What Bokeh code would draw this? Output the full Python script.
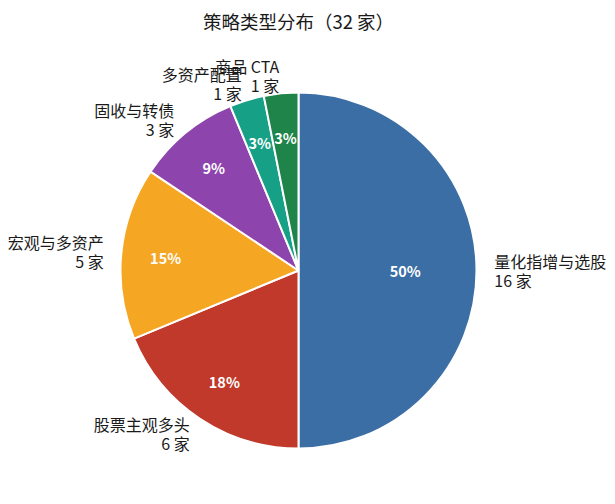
import math
from bokeh.plotting import figure
from bokeh.models import Range1d, ColumnDataSource
from bokeh.core.properties import value
from bokeh.embed import file_html
from bokeh.resources import INLINE

# ---- data ----
categories = ["量化指增与选股", "股票主观多头", "宏观与多资产", "固收与转债", "多资产配置", "商品 CTA"]
counts = [16, 6, 5, 3, 1, 1]
colors = ["#3B6EA5", "#C0392B", "#F5A623", "#8E44AD", "#16A085", "#1E8449"]
title_text = "策略类型分布（32 家）"

W, H = 612, 500
FONT = "Noto Sans CJK SC"

p = figure(width=W, height=H, output_backend="svg", toolbar_location=None,
           x_range=Range1d(0, W), y_range=Range1d(0, H), min_border=0)
p.axis.visible = False
p.grid.visible = False
p.outline_line_color = None

cx, cy, r = 298, H - 270, 178
total = sum(counts)

starts, ends, mids = [], [], []
cum = 0
for c in counts:
    s = 90 - cum / total * 360
    e = s - c / total * 360
    starts.append(s)
    ends.append(e)
    mids.append((s + e) / 2)
    cum += c

src = ColumnDataSource(dict(start=starts, end=ends, color=colors))
p.wedge(x=cx, y=cy, radius=r, start_angle="start", end_angle="end",
        start_angle_units="deg", end_angle_units="deg", direction="clock",
        fill_color="color", line_color="white", line_width=2, source=src)

# outer labels
lx, ly, la, lt = [], [], [], []
px, py, pt = [], [], []
for cat, c, m in zip(categories, counts, mids):
    a = math.radians(m)
    x = cx + 1.1 * r * math.cos(a)
    y = cy + 1.1 * r * math.sin(a)
    lx.append(x)
    ly.append(y)
    la.append("left" if math.cos(a) > 0 else "right")
    lt.append(f"{cat}\n{c} 家")
    share = c / total
    d = 0.6 if share >= 0.5 else 0.75
    px.append(cx + d * r * math.cos(a))
    py.append(cy + d * r * math.sin(a))
    pt.append(f"{int(share * 100)}%")

p.text(x="x", y="y", text="t", text_align="a", text_baseline="middle",
       source=ColumnDataSource(dict(x=lx, y=ly, t=lt, a=la)),
       text_font=value(FONT), text_font_size="16px", text_color="#1a1a1a",
       text_line_height=0.8)

p.text(x=px, y=py, text=pt, text_align="center", text_baseline="middle",
       text_font=value(FONT), text_font_size="14.5px", text_font_style="bold",
       text_color="white")

p.text(x=[298], y=[H - 20], text=[title_text], text_align="center",
       text_baseline="middle", text_font=value(FONT), text_font_size="18.5px",
       text_color="#1a1a1a")

open("out.html", "w").write(file_html(p, INLINE))
